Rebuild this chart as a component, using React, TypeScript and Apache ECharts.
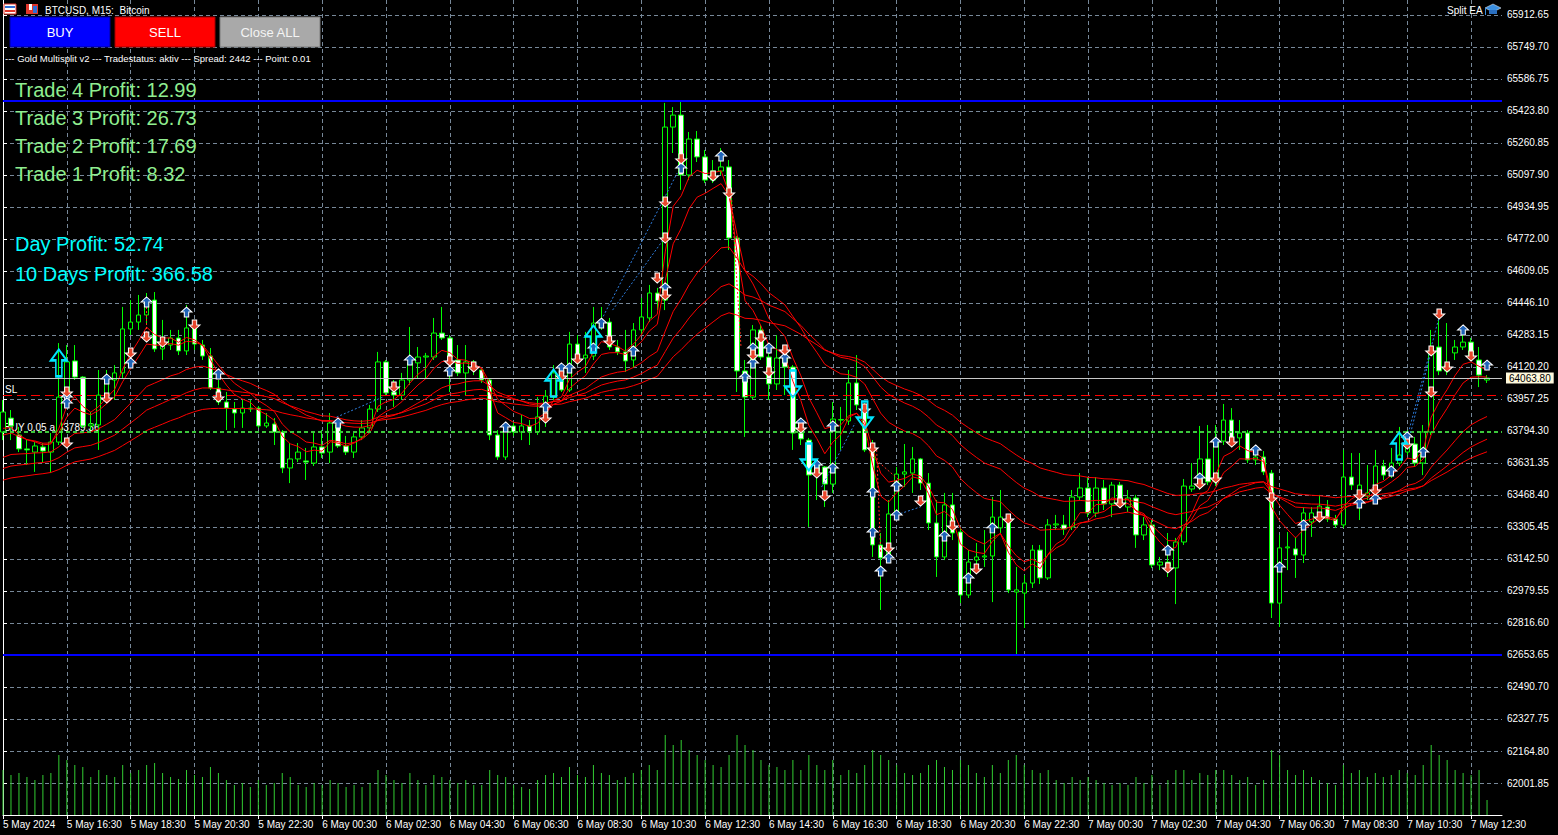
import React, { useEffect, useRef } from "react";
import * as echarts from "echarts";

const FONT = '"Liberation Sans", Arial, sans-serif';

// ---- axes ----
const xTickLabels = [
  "5 May 2024", "5 May 16:30", "5 May 18:30", "5 May 20:30", "5 May 22:30",
  "6 May 00:30", "6 May 02:30", "6 May 04:30", "6 May 06:30", "6 May 08:30",
  "6 May 10:30", "6 May 12:30", "6 May 14:30", "6 May 16:30", "6 May 18:30",
  "6 May 20:30", "6 May 22:30", "7 May 00:30", "7 May 02:30", "7 May 04:30",
  "7 May 06:30", "7 May 08:30", "7 May 10:30", "7 May 12:30",
];
const priceMin = 61838.9;
const priceMax = 65989.03;
const priceStep = 162.95;
const barsMin = 0;
const barsMax = 187.875;
const barsStep = 8;
const volumeMax = 8150;

// ---- M15 candles (5 May 14:30 .. 7 May 13:00) ----
const opens = [
  63789, 63860, 63774, 63703, 63687, 63713, 63687, 63738, 63967, 64151,
  64069, 63820, 63825, 63977, 64054, 64090, 64314, 64349, 64385, 64461,
  64212, 64232, 64268, 64202, 64319, 64232, 64176, 64013, 63942, 63906,
  63886, 63911, 63911, 63820, 63830, 63789, 63606, 63652, 63642, 63631,
  63713, 63687, 63825, 63718, 63687, 63764, 63810, 63906, 64146, 63993,
  63977, 64054, 64141, 64171, 64171, 64293, 64268, 64156, 64090, 64146,
  64105, 64054, 63774, 63662, 63820, 63789, 63820, 63789, 63866, 63967,
  64085, 64003, 64237, 64166, 64176, 64329, 64349, 64222, 64197, 64156,
  64309, 64370, 64497, 64461, 65342, 65403, 65098, 65281, 65190, 65072,
  65118, 65139, 64777, 64100, 63967, 64309, 64171, 64034, 64166, 64120,
  63784, 63748, 63580, 63611, 63524, 63850, 63845, 64039, 63927, 63698,
  63214, 63148, 63372, 63575, 63580, 63652, 63529, 63326, 63153, 63418,
  63280, 62959, 63137, 63153, 63158, 63301, 63341, 62974, 62969, 63020,
  63188, 63046, 63316, 63316, 63306, 63458, 63504, 63377, 63504, 63423,
  63519, 63407, 63453, 63265, 63316, 63112, 63127, 63097, 63229, 63499,
  63514, 63652, 63535, 63743, 63850, 63759, 63784, 63647, 63662, 63580,
  62918, 63199, 63194, 63163, 63331, 63367, 63407, 63346, 63316, 63560,
  63479, 63463, 63494, 63616, 63580, 63631, 63687, 63728, 63631, 63789,
  64222, 64100, 64192, 64222, 64247, 64156, 64054,
];
const highs = [
  63952, 63901, 63815, 63748, 63738, 63733, 63784, 64242, 64232, 64232,
  64074, 63891, 64105, 64105, 64130, 64426, 64461, 64487, 64497, 64502,
  64360, 64309, 64309, 64436, 64360, 64258, 64217, 64054, 63993, 63942,
  63952, 63952, 63922, 63886, 63860, 63799, 63733, 63733, 63708, 63789,
  63799, 63886, 63850, 63769, 63789, 63850, 63927, 64197, 64156, 64054,
  64090, 64324, 64222, 64192, 64370, 64426, 64283, 64232, 64232, 64156,
  64115, 64064, 63799, 63835, 63840, 63876, 63850, 63967, 64003, 64130,
  64130, 64299, 64283, 64299, 64426, 64426, 64370, 64258, 64309, 64344,
  64472, 64538, 64523, 65465, 65444, 65475, 65317, 65322, 65225, 65174,
  65235, 65174, 64787, 64156, 64334, 64334, 64242, 64283, 64232, 64130,
  63810, 63759, 63647, 63616, 63942, 63917, 64105, 64181, 63937, 63748,
  63275, 63443, 63611, 63728, 63713, 63657, 63580, 63443, 63479, 63479,
  63301, 63188, 63224, 63290, 63458, 63494, 63356, 63102, 63061, 63214,
  63214, 63346, 63367, 63367, 63494, 63580, 63560, 63560, 63545, 63535,
  63535, 63494, 63469, 63356, 63341, 63153, 63275, 63250, 63550, 63631,
  63820, 63825, 63825, 63932, 63911, 63850, 63799, 63687, 63692, 63596,
  63265, 63280, 63255, 63407, 63407, 63469, 63443, 63367, 63698, 63682,
  63682, 63621, 63698, 63647, 63708, 63815, 63799, 63764, 63825, 64309,
  64375, 64344, 64258, 64314, 64268, 64222, 64079,
];
const lows = [
  63748, 63748, 63687, 63621, 63586, 63631, 63580, 63723, 63952, 64054,
  63810, 63799, 63698, 63952, 63952, 64064, 64283, 64309, 64334, 64197,
  64156, 64207, 64181, 64181, 64207, 64156, 64003, 63927, 63799, 63810,
  63810, 63891, 63810, 63810, 63723, 63580, 63529, 63636, 63545, 63616,
  63657, 63631, 63708, 63672, 63657, 63748, 63789, 63891, 63977, 63917,
  63952, 64029, 64064, 64064, 64156, 64258, 63993, 64074, 63977, 64079,
  64039, 63748, 63647, 63647, 63769, 63748, 63723, 63774, 63815, 63952,
  63993, 63993, 64130, 64090, 64156, 64309, 64207, 64181, 64095, 64115,
  64283, 64349, 64410, 64410, 65210, 65022, 65072, 65164, 65057, 65057,
  65098, 64716, 63993, 63764, 63952, 64156, 63952, 64003, 63977, 63698,
  63723, 63306, 63443, 63407, 63479, 63698, 63825, 63901, 63687, 63153,
  62883, 63127, 63351, 63509, 63479, 63494, 63290, 63051, 63137, 63239,
  62918, 62944, 63102, 63102, 62923, 63275, 62969, 62654, 62791, 62995,
  63015, 63036, 63290, 63265, 63290, 63443, 63356, 63356, 63392, 63356,
  63402, 63382, 63199, 63239, 63097, 63086, 63051, 62913, 63214, 63484,
  63494, 63519, 63514, 63723, 63713, 63698, 63631, 63621, 63570, 62842,
  62796, 63086, 63046, 63122, 63255, 63341, 63331, 63301, 63301, 63494,
  63341, 63443, 63479, 63545, 63555, 63616, 63672, 63616, 63570, 63774,
  64079, 64079, 64156, 64207, 64156, 64018, 64039,
];
const closes = [
  63891, 63820, 63703, 63698, 63718, 63692, 63738, 63967, 64146, 64069,
  63820, 63830, 63977, 64054, 64090, 64314, 64349, 64385, 64461, 64212,
  64232, 64268, 64202, 64319, 64237, 64176, 64013, 63942, 63911, 63886,
  63911, 63906, 63820, 63835, 63789, 63606, 63652, 63687, 63636, 63713,
  63682, 63835, 63718, 63687, 63764, 63810, 63906, 64146, 63988, 63977,
  64054, 64141, 64171, 64176, 64293, 64268, 64171, 64090, 64146, 64105,
  64054, 63774, 63662, 63815, 63789, 63820, 63789, 63866, 63972, 64090,
  64003, 64237, 64166, 64181, 64344, 64355, 64222, 64197, 64151, 64309,
  64375, 64497, 64456, 65342, 65403, 65098, 65281, 65190, 65072, 65118,
  65139, 64777, 64100, 63967, 64309, 64171, 64034, 64166, 64120, 63784,
  63754, 63570, 63621, 63524, 63855, 63853, 64039, 63927, 63698, 63214,
  63148, 63372, 63575, 63586, 63652, 63529, 63326, 63153, 63418, 63275,
  62959, 63127, 63153, 63158, 63356, 63356, 62985, 62985, 63020, 63188,
  63046, 63316, 63321, 63295, 63458, 63504, 63377, 63504, 63423, 63519,
  63428, 63453, 63265, 63316, 63112, 63127, 63107, 63229, 63514, 63514,
  63652, 63535, 63738, 63850, 63728, 63784, 63647, 63662, 63586, 62918,
  63199, 63204, 63163, 63377, 63377, 63412, 63346, 63316, 63560, 63519,
  63519, 63479, 63616, 63570, 63631, 63672, 63764, 63631, 63789, 64202,
  64100, 64130, 64222, 64247, 64171, 64079, 64063.8,
];
const volumes = [
  450, 400, 420, 380, 350, 400, 420, 600, 550, 500,
  480, 380, 450, 400, 380, 500, 420, 450, 500, 520,
  420, 380, 360, 450, 400, 380, 480, 420, 350, 300,
  320, 280, 350, 300, 320, 420, 380, 300, 280, 320,
  300, 350, 320, 280, 300, 280, 320, 450, 400, 350,
  320, 420, 350, 300, 400, 380, 350, 320, 350, 300,
  300, 450, 400, 380, 300, 280, 260, 350, 400, 420,
  380, 480, 400, 380, 500, 420, 400, 350, 380, 420,
  450, 500, 450, 800, 700, 750, 650, 600, 550, 500,
  480, 600, 800, 700, 650, 550, 500, 480, 450, 550,
  450, 600, 500, 450, 550, 400, 450, 420, 500, 650,
  600, 550, 500, 420, 400, 420, 500, 550, 480, 450,
  550, 500, 420, 380, 500, 420, 550, 600, 500, 450,
  420, 450, 350, 320, 380, 350, 380, 350, 320, 300,
  320, 300, 380, 320, 400, 300, 350, 450, 450, 350,
  420, 400, 450, 450, 400, 350, 380, 300, 350, 650,
  600, 450, 400, 450, 380, 350, 320, 300, 500, 420,
  450, 380, 420, 380, 400, 450, 420, 400, 500, 700,
  600, 550, 450, 420, 400, 450, 150,
];

// ---- moving averages (EMA periods and their values just before the first bar) ----
const maPeriods = [5, 8, 21, 34, 50];
const maSeeds = [63766, 63740, 63637, 63586, 63530];

// ---- horizontal levels ----
const tpLevel = 65476;
const lowLevel = 62653;
const bidPrice = 64063.8;
const slPrice = 63976;
const buyOpenPrice = 63789.36;

// ---- trade markers [bar index, price] ----
const buyMarks = [
  [8, 63967], [8, 63937], [13, 64059], [16, 64141], [18, 64451], [23, 64400], [27, 64085],
  [42, 63835], [51, 64156], [56, 64100], [63, 63815], [68, 63917], [70, 64115], [71, 64115],
  [74, 64217], [75, 64344], [79, 64202], [83, 64523], [85, 65134], [90, 65195], [93, 64069],
  [94, 64217], [94, 64141], [96, 64217], [98, 64166], [100, 63835], [102, 63621], [104, 63606],
  [104, 63820], [109, 63484], [109, 63280], [110, 63081], [111, 63148], [112, 63514], [112, 63367],
  [118, 63260], [121, 63046], [124, 63301], [146, 63188], [150, 63555], [152, 63738], [157, 63698],
  [160, 63102], [163, 63316], [170, 63428], [172, 63448], [174, 63591], [176, 63764], [178, 63687],
  [183, 64309], [186, 64130],
];
const sellMarks = [
  [8, 63993], [8, 63733], [13, 63962], [16, 64192], [18, 64273], [20, 64247], [24, 64334],
  [27, 63967], [49, 64018], [56, 64151], [59, 64120], [68, 63860], [70, 64074], [72, 64161],
  [76, 64253], [82, 64573], [83, 64487], [83, 64777], [83, 64960], [85, 65180], [89, 65093],
  [91, 65006], [94, 64181], [95, 64268], [96, 64095], [98, 64207], [100, 63810], [102, 63580],
  [103, 63464], [108, 63906], [109, 63708], [111, 63199], [115, 63438], [119, 63311], [122, 63092],
  [126, 63346], [140, 63428], [146, 63097], [150, 63525], [152, 63555], [154, 63738], [159, 63453],
  [165, 63356], [170, 63469], [172, 63494], [176, 63728], [179, 64202], [179, 63993], [180, 64390],
  [181, 64120], [184, 64176],
];
const signalUp = [[7, 64141], [69, 64039], [74, 64263], [175, 63718]];
const signalDown = [[99, 64034], [101, 63662], [108, 63876]];
const buyTradeLines = [
  [[75, 64360], [84.5, 65108]],
  [[76.4, 64410], [83, 64782]],
  [[41.8, 63865], [47.6, 63967]],
  [[102.6, 63509], [106.8, 63835]],
  [[112, 63367], [115, 63408]],
  [[176, 63764], [180, 64375]],
  [[176.3, 63764], [179, 64202]],
];
const sellTradeLines = [
  [[91.3, 64990], [92.5, 64220]],
  [[109.5, 63698], [110, 63173]],
  [[109, 63662], [112.3, 63545]],
  [[18, 64446], [18, 64293]],
];

// ---- texts ----
const chartTitle = "BTCUSD, M15:  Bitcoin";
const infoLine = "--- Gold Multisplit v2 --- Tradestatus: aktiv --- Spread: 2442 --- Point: 0.01";
const tradeProfitTexts = [
  "Trade 4 Profit: 12.99",
  "Trade 3 Profit: 26.73",
  "Trade 2 Profit: 17.69",
  "Trade 1 Profit: 8.32",
];
const dayProfitTexts = ["Day Profit: 52.74", "10 Days Profit: 366.58"];
const buttonLabels = ["BUY", "SELL", "Close ALL"];

function ema(vals: number[], period: number, seed: number) {
  const k = 2 / (period + 1);
  let prev = seed;
  return vals.map((v) => (prev = prev + k * (v - prev)));
}

const UP_ARROW = "path://M5,0 L10,5 L7,5 L7,10 L3,10 L3,5 L0,5 Z";
const DOWN_ARROW = "path://M3,0 L7,0 L7,5 L10,5 L5,10 L0,5 L3,5 Z";
const BIG_UP = "path://M8,0 L16,11 L11,11 L11,27 L5,27 L5,11 L0,11 Z";
const BIG_DOWN = "path://M5,0 L11,0 L11,16 L16,16 L8,27 L0,16 L5,16 Z";

export default function App() {
  const ref = useRef<HTMLDivElement>(null);

  useEffect(() => {
    if (!ref.current) return;
    const chart = echarts.init(ref.current, null, { renderer: "svg" });

    const candleData = opens.map((o, i) => [i, o, closes[i], lows[i], highs[i]]);
    const maSeries = maPeriods.map((p, k) => ({
      type: "line",
      name: "EMA" + p,
      data: ema(closes, p, maSeeds[k]).map((v, i) => [i, v]),
      showSymbol: false,
      symbol: "none",
      lineStyle: { color: "#ff0000", width: 1 },
      z: 4,
      silent: true,
    }));

    const buttonColors = [
      { fill: "#0000ff", stroke: "#00009a", text: "#ffffff" },
      { fill: "#ff0000", stroke: "#a00000", text: "#ffffff" },
      { fill: "#a9a9a9", stroke: "#7a7a7a", text: "#f4f4f4" },
    ];

    const graphics: any[] = [];
    graphics.push(
      { type: "rect", shape: { x: 4, y: 4, width: 12, height: 10 }, style: { fill: "#ffffff", stroke: "#e0362c", lineWidth: 1 }, z: 100 },
      { type: "rect", shape: { x: 5, y: 6, width: 10, height: 2 }, style: { fill: "#2f6fd6" }, z: 101 },
      { type: "rect", shape: { x: 5, y: 10, width: 10, height: 2 }, style: { fill: "#e0362c" }, z: 101 },
      { type: "rect", shape: { x: 26, y: 4, width: 12, height: 10 }, style: { fill: "#e0362c" }, z: 100 },
      { type: "rect", shape: { x: 29, y: 4, width: 3, height: 6 }, style: { fill: "#ffffff" }, z: 101 },
      { type: "rect", shape: { x: 33, y: 6, width: 4, height: 7 }, style: { fill: "#2f6fd6" }, z: 101 },
      { type: "text", x: 45, y: 10, style: { text: chartTitle, fill: "#ffffff", font: `10px ${FONT}`, verticalAlign: "middle" }, z: 100 }
    );
    buttonLabels.forEach((lab, k) => {
      const x = 10 + k * 105;
      const c = buttonColors[k];
      graphics.push(
        { type: "rect", shape: { x, y: 17, width: 100, height: 30 }, style: { fill: c.fill, stroke: c.stroke, lineWidth: 1 }, z: 100 },
        { type: "text", x: x + 50, y: 32, style: { text: lab, fill: c.text, font: `13px ${FONT}`, align: "center", verticalAlign: "middle" }, z: 101 }
      );
    });
    graphics.push({ type: "text", x: 5, y: 58, style: { text: infoLine, fill: "#ffffff", font: `9.5px ${FONT}`, verticalAlign: "middle" }, z: 100 });
    tradeProfitTexts.forEach((t, k) => {
      graphics.push({ type: "text", x: 15, y: 90 + k * 28, style: { text: t, fill: "#90ee90", font: `20px ${FONT}`, verticalAlign: "middle" }, z: 100 });
    });
    dayProfitTexts.forEach((t, k) => {
      graphics.push({ type: "text", x: 15, y: 244 + k * 30, style: { text: t, fill: "#00ffff", font: `20px ${FONT}`, verticalAlign: "middle" }, z: 100 });
    });
    graphics.push(
      { type: "text", x: 1447, y: 10, style: { text: "Split EA", fill: "#ffffff", font: `10px ${FONT}`, verticalAlign: "middle" }, z: 100 },
      { type: "polygon", shape: { points: [[1485, 8], [1493, 4], [1501, 8], [1493, 12]] }, style: { fill: "#3b8fe0", stroke: "#ffffff", lineWidth: 0.5 }, z: 100 },
      { type: "rect", shape: { x: 1489, y: 10, width: 8, height: 4 }, style: { fill: "#2a6fc0" }, z: 100 },
      { type: "rect", shape: { x: 1485, y: 8, width: 1, height: 7 }, style: { fill: "#3b8fe0" }, z: 100 },
      { type: "text", x: 5, y: 389, style: { text: "SL", fill: "#ffffff", font: `10px ${FONT}`, verticalAlign: "middle" }, z: 1 },
      { type: "text", x: 4, y: 427, style: { text: "BUY 0.05 a 63789.36", fill: "#ffffff", font: `10px ${FONT}`, verticalAlign: "middle" }, z: 1 }
    );

    const option: any = {
      animation: false,
      backgroundColor: "#000000",
      grid: { left: -1, top: 0, width: 1503, height: 815, containLabel: false },
      xAxis: {
        type: "value",
        min: barsMin,
        max: barsMax,
        interval: barsStep,
        axisLine: { show: true, lineStyle: { color: "#ffffff", width: 1 } },
        axisTick: { show: true, length: 4, lineStyle: { color: "#ffffff" } },
        axisLabel: {
          color: "#ffffff",
          fontSize: 10,
          fontFamily: FONT,
          align: "left",
          margin: 4,
          showMinLabel: true,
          showMaxLabel: false,
          formatter: (v: number) => {
            const k = Math.round(v / barsStep);
            return Math.abs(v - k * barsStep) < 1e-6 ? xTickLabels[k] ?? "" : "";
          },
        },
        splitLine: { show: true, showMinLine: false, showMaxLine: false, lineStyle: { color: "#778899", type: [4, 3], width: 1 } },
      },
      yAxis: [
        {
          type: "value",
          position: "right",
          min: priceMin,
          max: priceMax,
          interval: priceStep,
          scale: true,
          axisLine: { show: true, lineStyle: { color: "#ffffff", width: 1 } },
          axisTick: { show: true, length: 4, lineStyle: { color: "#ffffff" } },
          axisLabel: {
            color: "#ffffff",
            fontSize: 10,
            fontFamily: FONT,
            margin: 5,
            showMinLabel: false,
            showMaxLabel: false,
            formatter: (v: number) => v.toFixed(2),
          },
          splitLine: { show: true, showMinLine: false, showMaxLine: false, lineStyle: { color: "#778899", type: [4, 3], width: 1 } },
        },
        { type: "value", show: false, min: 0, max: volumeMax, splitLine: { show: false } },
      ],
      series: [
        {
          type: "bar",
          name: "Volumes",
          yAxisIndex: 1,
          data: volumes.map((v, i) => [i, v]),
          barWidth: 1,
          itemStyle: { color: "#32cd32" },
          z: 1,
          silent: true,
        },
        {
          type: "candlestick",
          name: "BTCUSD",
          data: candleData,
          barWidth: 5,
          itemStyle: {
            color: "#000000",
            color0: "#ffffff",
            borderColor: "#00ff00",
            borderColor0: "#00ff00",
            borderWidth: 1,
          },
          z: 3,
          silent: true,
          markLine: {
            symbol: ["none", "none"],
            silent: true,
            animation: false,
            data: [
              { yAxis: tpLevel, lineStyle: { color: "#0000ff", width: 2, type: "solid" }, label: { show: false } },
              { yAxis: lowLevel, lineStyle: { color: "#0000ff", width: 2, type: "solid" }, label: { show: false } },
              { yAxis: slPrice, lineStyle: { color: "#ff0000", width: 1, type: [9, 5] }, label: { show: false } },
              { yAxis: buyOpenPrice, lineStyle: { color: "#3cc83c", width: 2, type: [4, 3] }, label: { show: false } },
              {
                yAxis: bidPrice,
                lineStyle: { color: "#c8c8c8", width: 1, type: "solid" },
                label: {
                  show: true,
                  position: "end",
                  formatter: bidPrice.toFixed(2),
                  color: "#000000",
                  backgroundColor: "#fdf8dc",
                  padding: [1, 3, 0, 3],
                  fontSize: 10,
                  fontFamily: FONT,
                  distance: 4,
                },
              },
            ],
          },
        },
        ...maSeries,
        {
          type: "lines",
          coordinateSystem: "cartesian2d",
          data: buyTradeLines.map((c) => ({ coords: c })),
          lineStyle: { color: "#2f7fe0", width: 1, type: [2, 2], opacity: 1 },
          z: 5,
          silent: true,
        },
        {
          type: "lines",
          coordinateSystem: "cartesian2d",
          data: sellTradeLines.map((c) => ({ coords: c })),
          lineStyle: { color: "#ff3020", width: 1, type: [2, 2], opacity: 1 },
          z: 5,
          silent: true,
        },
        {
          type: "scatter",
          data: buyMarks,
          symbol: UP_ARROW,
          symbolSize: [11, 10],
          itemStyle: { color: "#1f63b8", borderColor: "#ffffff", borderWidth: 1, opacity: 1 },
          z: 6,
          silent: true,
        },
        {
          type: "scatter",
          data: sellMarks,
          symbol: DOWN_ARROW,
          symbolSize: [11, 10],
          itemStyle: { color: "#e8472c", borderColor: "#ffffff", borderWidth: 1, opacity: 1 },
          z: 6,
          silent: true,
        },
        {
          type: "scatter",
          data: signalUp,
          symbol: BIG_UP,
          symbolSize: [16, 27],
          itemStyle: { color: "rgba(0,0,0,0)", borderColor: "#00e5ff", borderWidth: 2, opacity: 1 },
          z: 7,
          silent: true,
        },
        {
          type: "scatter",
          data: signalDown,
          symbol: BIG_DOWN,
          symbolSize: [16, 27],
          itemStyle: { color: "rgba(0,0,0,0)", borderColor: "#00e5ff", borderWidth: 2, opacity: 1 },
          z: 7,
          silent: true,
        },
      ],
      graphic: { elements: graphics },
    };

    chart.setOption(option);
    return () => chart.dispose();
  }, []);

  return (
    <div
      ref={ref}
      style={{ position: "fixed", left: 0, top: 0, width: 1558, height: 835, background: "#000000" }}
    />
  );
}
